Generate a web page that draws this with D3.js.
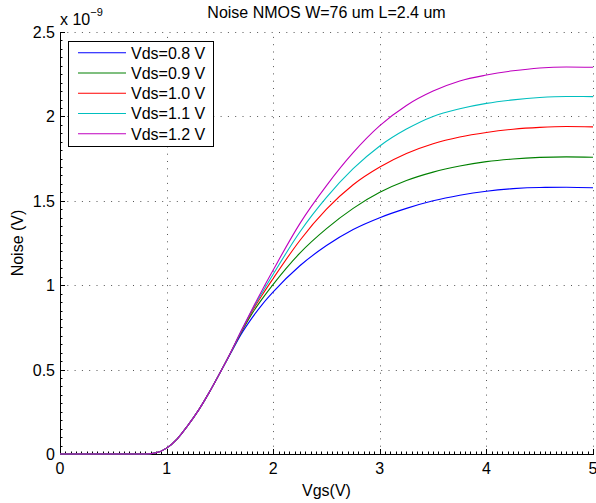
<!DOCTYPE html>
<html lang="en">
<head>
    <meta charset="UTF-8">
    <title>Noise NMOS</title>
    <style>
        body { margin: 0; background: #fff; }
        svg { display: block; }
        text { font-family: "Liberation Sans", Arial, sans-serif; fill: #000; }
    </style>
    <script src="https://d3js.org/d3.v7.min.js"></script>
</head>
<body>
    <svg width="596" height="503"></svg>
    <script>
        // Vgs sample points (V)
        const vgs = [0, 0.7, 0.8, 0.9, 1.0, 1.1, 1.2, 1.3, 1.4, 1.5, 1.6, 1.7, 1.8, 1.9, 2.0,
                     2.25, 2.5, 2.75, 3.0, 3.25, 3.5, 3.75, 4.0, 4.25, 4.5, 4.75, 5.0];

        // noise values, x 1e-9 V
        const vds08 = [0, 0, 0, 0.007, 0.035, 0.09, 0.17, 0.26, 0.365, 0.48, 0.595, 0.71, 0.805, 0.888, 0.96,
                       1.115, 1.235, 1.33, 1.40, 1.455, 1.50, 1.533, 1.557, 1.572, 1.579, 1.58, 1.577];
        const vds09 = [0, 0, 0, 0.007, 0.035, 0.09, 0.17, 0.26, 0.365, 0.48, 0.598, 0.72, 0.83, 0.922, 1.005,
                       1.19, 1.335, 1.455, 1.55, 1.62, 1.67, 1.706, 1.732, 1.748, 1.757, 1.76, 1.758];
        const vds10 = [0, 0, 0, 0.007, 0.035, 0.09, 0.17, 0.26, 0.365, 0.48, 0.60, 0.725, 0.843, 0.945, 1.04,
                       1.265, 1.45, 1.595, 1.70, 1.78, 1.838, 1.878, 1.905, 1.924, 1.935, 1.94, 1.938];
        const vds11 = [0, 0, 0, 0.007, 0.035, 0.09, 0.17, 0.26, 0.365, 0.48, 0.60, 0.728, 0.85, 0.96, 1.065,
                       1.315, 1.52, 1.69, 1.825, 1.925, 2.00, 2.045, 2.077, 2.098, 2.112, 2.118, 2.117];
        const vds12 = [0, 0, 0, 0.007, 0.035, 0.09, 0.17, 0.26, 0.365, 0.48, 0.60, 0.73, 0.855, 0.975, 1.09,
                       1.365, 1.59, 1.785, 1.945, 2.065, 2.15, 2.21, 2.245, 2.27, 2.287, 2.293, 2.291];

        const labels = ["Vds=0.8 V", "Vds=0.9 V", "Vds=1.0 V", "Vds=1.1 V", "Vds=1.2 V"];
        const colors = ["#0000ff", "#008000", "#ff0000", "#00bfbf", "#bf00bf"];
        const series = [vds08, vds09, vds10, vds11, vds12];

        const xTicks = [0, 1, 2, 3, 4, 5];
        const yTicks = [0, 0.5, 1, 1.5, 2, 2.5];

        const svg = d3.select("svg");
        const pLeft = 60, pRight = 593, pTop = 32, pBottom = 454;

        const x = d3.scaleLinear().domain([0, 5]).range([pLeft, pRight]);
        const y = d3.scaleLinear().domain([0, 2.5]).range([pBottom, pTop]);

        // dotted grid
        const grid = svg.append("g")
            .attr("stroke", "#555")
            .attr("stroke-width", 1)
            .attr("stroke-dasharray", "1,6.3");
        grid.selectAll("line.gx").data(xTicks.slice(1)).enter().append("line")
            .attr("x1", d => Math.round(x(d)) + 0.5).attr("x2", d => Math.round(x(d)) + 0.5)
            .attr("y1", pBottom).attr("y2", pTop);
        grid.selectAll("line.gy").data(yTicks.slice(1)).enter().append("line")
            .attr("y1", d => Math.round(y(d)) + 0.5).attr("y2", d => Math.round(y(d)) + 0.5)
            .attr("x1", pLeft).attr("x2", pRight);

        // minor ticks
        const minorX = d3.range(0, 5.001, 0.05).filter(v => Math.abs(v - Math.round(v)) > 1e-6);
        const minorY = d3.range(0, 2.501, 0.05).filter(v => Math.abs(v * 2 - Math.round(v * 2)) > 1e-6);
        const ticks = svg.append("g").attr("stroke", "#000").attr("stroke-width", 1);
        ticks.selectAll("line.mx").data(minorX).enter().append("line")
            .attr("x1", d => Math.round(x(d)) + 0.5).attr("x2", d => Math.round(x(d)) + 0.5)
            .attr("y1", pBottom).attr("y2", pBottom - 2.5);
        ticks.selectAll("line.my").data(minorY).enter().append("line")
            .attr("y1", d => Math.round(y(d)) + 0.5).attr("y2", d => Math.round(y(d)) + 0.5)
            .attr("x1", pLeft).attr("x2", pLeft + 2.5);
        ticks.selectAll("line.tx").data(xTicks).enter().append("line")
            .attr("x1", d => Math.round(x(d)) + 0.5).attr("x2", d => Math.round(x(d)) + 0.5)
            .attr("y1", pBottom).attr("y2", pBottom - 5);
        ticks.selectAll("line.ty").data(yTicks).enter().append("line")
            .attr("y1", d => Math.round(y(d)) + 0.5).attr("y2", d => Math.round(y(d)) + 0.5)
            .attr("x1", pLeft).attr("x2", pLeft + 5);

        // axis lines (left and bottom only)
        svg.append("line").attr("x1", pLeft + 0.5).attr("x2", pLeft + 0.5)
            .attr("y1", pTop).attr("y2", pBottom + 0.5).attr("stroke", "#000");
        svg.append("line").attr("x1", pLeft).attr("x2", pRight + 1)
            .attr("y1", pBottom + 0.5).attr("y2", pBottom + 0.5).attr("stroke", "#000");

        // tick labels
        svg.selectAll("text.xt").data(xTicks).enter().append("text")
            .attr("x", d => x(d)).attr("y", pBottom + 20)
            .attr("text-anchor", "middle").style("font-size", "16px")
            .text(d => d);
        svg.selectAll("text.yt").data(yTicks).enter().append("text")
            .attr("x", pLeft - 5).attr("y", d => y(d) + 6)
            .attr("text-anchor", "end").style("font-size", "16px")
            .text(d => d);

        // exponent
        const ex = svg.append("text").attr("x", 60).attr("y", 25).style("font-size", "16px");
        ex.append("tspan").text("x 10");
        ex.append("tspan").attr("dy", -9).style("font-size", "11px").text("\u22129");

        // title and labels
        svg.append("text").attr("x", (pLeft + pRight) / 2).attr("y", 18)
            .attr("text-anchor", "middle").style("font-size", "16px")
            .text("Noise NMOS W=76 um L=2.4 um");
        svg.append("text").attr("x", (pLeft + pRight) / 2).attr("y", 496)
            .attr("text-anchor", "middle").style("font-size", "16px")
            .text("Vgs(V)");
        svg.append("text")
            .attr("transform", `translate(23,${(pTop + pBottom) / 2}) rotate(-90)`)
            .attr("text-anchor", "middle").style("font-size", "16px")
            .text("Noise (V)");

        // curves
        const line = d3.line()
            .x((d, i) => x(vgs[i]))
            .y(d => y(d))
            .curve(d3.curveMonotoneX);
        svg.selectAll("path.curve").data(series).enter().append("path")
            .attr("class", "curve")
            .attr("d", line)
            .attr("fill", "none")
            .attr("stroke", (d, i) => colors[i])
            .attr("stroke-width", 1.1);

        // legend
        const lg = svg.append("g");
        lg.append("rect").attr("x", 68.5).attr("y", 41.5).attr("width", 145).attr("height", 105)
            .attr("fill", "#fff").attr("stroke", "#000");
        const rows = lg.selectAll("g.row").data(labels).enter().append("g")
            .attr("transform", (d, i) => `translate(0,${52.7 + i * 20.25})`);
        rows.append("line").attr("x1", 78).attr("x2", 126).attr("y1", 0).attr("y2", 0)
            .attr("stroke", (d, i) => colors[i]).attr("stroke-width", 1.1);
        rows.append("text").attr("x", 131).attr("y", 6).style("font-size", "16px").text(d => d);
    </script>
</body>
</html>
